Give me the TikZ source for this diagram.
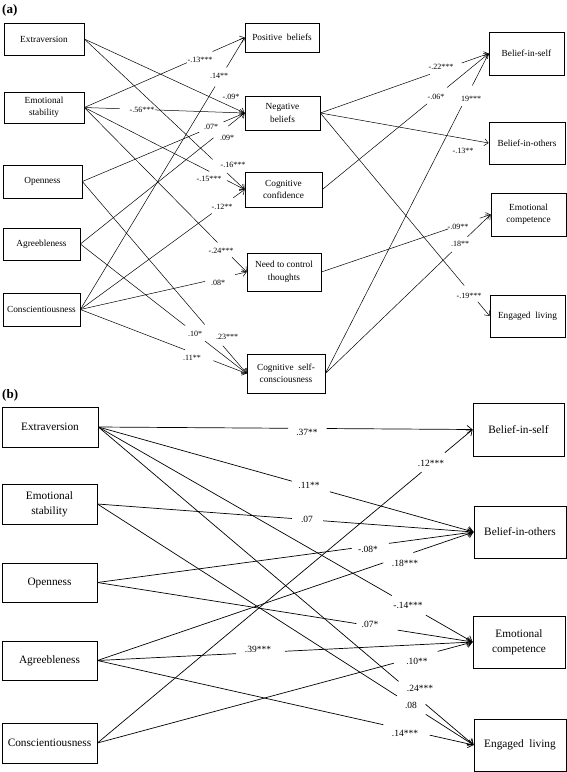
\documentclass[tikz,border=0pt]{standalone}
\usepackage{fontspec}
\setmainfont{Liberation Serif}
\usetikzlibrary{arrows.meta,calc}
\newcommand\gapline[5]{%
  \draw[ln#1] (#2) -- ($(#2)!#4!(#3)$);
  \draw[ar#1] ($(#2)!#5!(#3)$) -- (#3);}
\begin{document}
\begin{tikzpicture}[x=1pt,y=-1pt,
  boxa/.style={draw, line width=0.7pt, align=center, inner sep=1pt, font=\fontsize{9.3}{12.5}\selectfont},
  boxb/.style={draw, line width=0.8pt, align=center, inner sep=1pt, font=\fontsize{11.3}{15}\selectfont},
  lna/.style={line width=0.5pt},
  ara/.style={line width=0.5pt, -{Straight Barb[length=4pt,width=7pt]}},
  lnb/.style={line width=0.7pt},
  arb/.style={line width=0.7pt, -{Straight Barb[length=5pt,width=8pt]}},
  lbla/.style={font=\fontsize{8}{9}\selectfont, inner sep=0pt},
  lblb/.style={font=\fontsize{9.5}{11}\selectfont, inner sep=0pt},
  ttl/.style={font=\fontsize{13}{15}\selectfont\bfseries, inner sep=0pt, anchor=base west}]
\useasboundingbox (0,0) rectangle (567,772);

% ---------------- panel (a) ----------------
\node[ttl] (ta) at (2,13) {(a)};
\node[boxa, minimum width=80pt, minimum height=32pt] (aE) at (44,39) {Extraversion};
\node[boxa, minimum width=80pt, minimum height=31pt] (aES) at (44,107.5) {Emotional\\stability};
\node[boxa, minimum width=79pt, minimum height=33pt] (aO) at (42.5,181.5) {Openness};
\node[boxa, minimum width=77pt, minimum height=32pt] (aA) at (41.5,244) {Agreebleness};
\node[boxa, minimum width=77pt, minimum height=33pt] (aC) at (41.5,309.5) {Conscientiousness};
\node[boxa, minimum width=74pt, minimum height=29pt] (aPB) at (282,37.5) {Positive~ beliefs};
\node[boxa, minimum width=75pt, minimum height=34pt] (aNB) at (282.5,113) {Negative\\beliefs};
\node[boxa, minimum width=77pt, minimum height=35pt] (aCC) at (283.5,189.5) {Cognitive\\confidence};
\node[boxa, minimum width=74pt, minimum height=38pt] (aNCT) at (284,272) {Need to control\\thoughts};
\node[boxa, minimum width=78pt, minimum height=39pt] (aCSC) at (286,373.5) {Cognitive~ self-\\consciousness};
\node[boxa, minimum width=75pt, minimum height=43pt] (aBIS) at (526.5,53.5) {Belief-in-self};
\node[boxa, minimum width=76pt, minimum height=42pt] (aBIO) at (527,143) {Belief-in-others};
\node[boxa, minimum width=75pt, minimum height=43pt] (aEC) at (528.5,214.5) {Emotional\\competence};
\node[boxa, minimum width=75pt, minimum height=42pt] (aEL) at (527.5,316) {Engaged~ living};

% left -> middle
\draw[ara] (aE.east) -- (aNB.west);
\gapline{a}{aE.east}{aCC.west}{0.80}{0.89}
\gapline{a}{aES.east}{aPB.west}{0.64}{0.80}
\gapline{a}{aES.east}{aNB.west}{0.22}{0.44}
\gapline{a}{aES.east}{aCC.west}{0.78}{0.89}
\gapline{a}{aES.east}{aNCT.west}{0.82}{0.91}
\gapline{a}{aO.east}{aNB.west}{0.72}{0.87}
\gapline{a}{aO.east}{aCSC.west}{0.745}{0.855}
\gapline{a}{aA.east}{aNB.west}{0.81}{0.90}
\gapline{a}{aA.east}{aCSC.west}{0.63}{0.75}
\gapline{a}{aC.east}{aPB.west}{0.82}{0.89}
\gapline{a}{aC.east}{aCC.west}{0.80}{0.93}
\gapline{a}{aC.east}{aNCT.west}{0.75}{0.93}
\gapline{a}{aC.east}{aCSC.west}{0.63}{0.80}
% middle -> right
\gapline{a}{aNB.east}{aBIS.west}{0.65}{0.84}
\draw[ara] (aNB.east) -- (aBIO.west);
\gapline{a}{aNB.east}{aEL.west}{0.85}{0.93}
\gapline{a}{aCC.east}{aBIS.west}{0.63}{0.75}
\gapline{a}{aNCT.east}{aEC.west}{0.75}{0.935}
\gapline{a}{aCSC.east}{aBIS.west}{0.835}{0.90}
\gapline{a}{aCSC.east}{aEC.west}{0.765}{0.86}

% labels (a)
\node[lbla] (la1) at (200,60) {-.13***};
\node[lbla] (la2) at (219,76) {.14**};
\node[lbla] (la3) at (231,97) {-.09*};
\node[lbla] (la4) at (142,110) {-.56***};
\node[lbla] (la5) at (211,127) {.07*};
\node[lbla] (la6) at (227,138) {.09*};
\node[lbla] (la7) at (233,165) {-.16***};
\node[lbla] (la8) at (209,179) {-.15***};
\node[lbla] (la9) at (222,207) {-.12**};
\node[lbla] (la10) at (221,251) {-.24***};
\node[lbla] (la11) at (218,283) {.08*};
\node[lbla] (la12) at (195,334) {.10*};
\node[lbla] (la13) at (227,337) {.23***};
\node[lbla] (la14) at (192,358) {.11**};
\node[lbla] (la15) at (441,67) {-.22***};
\node[lbla] (la16) at (436,97) {-.06*};
\node[lbla] (la17) at (471,99) {19***};
\node[lbla] (la18) at (463,151) {-.13**};
\node[lbla] (la19) at (458,227) {-.09**};
\node[lbla] (la20) at (460,244) {.18**};
\node[lbla] (la21) at (469,296) {-.19***};

% ---------------- panel (b) ----------------
\node[ttl] (tb) at (2,398) {(b)};
\node[boxb, minimum width=96pt, minimum height=40pt] (bE) at (50,427) {Extraversion};
\node[boxb, minimum width=95pt, minimum height=40pt] (bES) at (49.5,504) {Emotional\\stability};
\node[boxb, minimum width=95pt, minimum height=39pt] (bO) at (49.5,582.5) {Openness};
\node[boxb, minimum width=95pt, minimum height=39pt] (bA) at (49.5,660.5) {Agreebleness};
\node[boxb, minimum width=95pt, minimum height=40pt] (bC) at (49.5,743) {Conscientiousness};
\node[boxb, minimum width=91pt, minimum height=53pt] (bBIS) at (518.5,429.5) {Belief-in-self};
\node[boxb, minimum width=92pt, minimum height=52pt] (bBIO) at (520,532) {Belief-in-others};
\node[boxb, minimum width=92pt, minimum height=52pt] (bEC) at (519,642) {Emotional\\competence};
\node[boxb, minimum width=92pt, minimum height=52pt] (bEL) at (520,745) {Engaged~ living};

\gapline{b}{bE.east}{bBIS.west}{0.507}{0.61}
\gapline{b}{bE.east}{bBIO.west}{0.516}{0.617}
\gapline{b}{bE.east}{bEC.west}{0.784}{0.875}
\gapline{b}{bE.east}{bEL.west}{0.80}{0.872}
\gapline{b}{bES.east}{bBIO.west}{0.517}{0.60}
\gapline{b}{bES.east}{bEL.west}{0.796}{0.873}
\gapline{b}{bO.east}{bBIO.west}{0.676}{0.775}
\gapline{b}{bO.east}{bEC.west}{0.69}{0.80}
\gapline{b}{bA.east}{bBIO.west}{0.76}{0.84}
\gapline{b}{bA.east}{bEC.west}{0.37}{0.50}
\gapline{b}{bA.east}{bEL.west}{0.76}{0.883}
\gapline{b}{bC.east}{bBIS.west}{0.864}{0.926}
\gapline{b}{bC.east}{bEC.west}{0.79}{0.907}

% labels (b)
\node[lblb] (lb1) at (307,432) {.37**};
\node[lblb] (lb2) at (309,485) {.11**};
\node[lblb] (lb3) at (307,519) {.07};
\node[lblb] (lb4) at (368,549) {-.08*};
\node[lblb] (lb5) at (405,563) {.18***};
\node[lblb] (lb6) at (431,463) {.12***};
\node[lblb] (lb7) at (408,605) {-.14***};
\node[lblb] (lb8) at (370,624) {.07*};
\node[lblb] (lb9) at (258,649) {.39***};
\node[lblb] (lb10) at (417,661) {.10**};
\node[lblb] (lb11) at (420,688) {.24***};
\node[lblb] (lb12) at (411,705) {.08};
\node[lblb] (lb13) at (405,733) {.14***};
\end{tikzpicture}
\end{document}
